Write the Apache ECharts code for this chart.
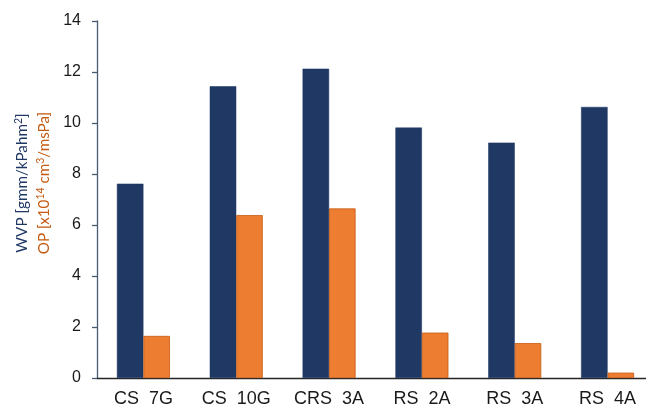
<!DOCTYPE html>
<html>
<head>
<meta charset="utf-8">
<script src="https://cdn.jsdelivr.net/npm/echarts@6/dist/echarts.min.js"></script>
<style>
  html, body { margin: 0; padding: 0; background: #fff; }
  #chart { width: 646px; height: 409px; }
</style>
</head>
<body>
<div id="chart"></div>
<script>
// Sample names along the x axis
const categories = ['CS  7G', 'CS  10G', 'CRS  3A', 'RS  2A', 'RS  3A', 'RS  4A'];
// Water vapour permeability, gmm/kPahm²
const wvpValues = [7.62, 11.44, 12.13, 9.82, 9.23, 10.63];
// Oxygen permeability, x10^14 cm³/msPa
const opValues = [1.65, 6.39, 6.65, 1.78, 1.37, 0.21];
// Value axis ticks
const yTicks = { min: 0, max: 14, interval: 2 };
// Two-line axis title, one colour per quantity ({s|..} marks superscripts)
const titleLines = ['WVP [gmm/kPahm{s|2}]', 'OP [x10{s|14} cm{s|3}/msPa]'];

const navy = '#203864';
const orange = '#ed7d31';
const titleFont = 'Lato, "Open Sans", sans-serif';

function titleStyle(text, color) {
  return {
    text: text,
    fill: color,
    fontFamily: titleFont,
    fontSize: 15.2,
    lineHeight: 20,
    align: 'center',
    verticalAlign: 'middle',
    rich: {
      s: { fontFamily: titleFont, fontSize: 10.5, fill: color, verticalAlign: 'top', lineHeight: 20, padding: [1, 0, 0, 0] }
    }
  };
}

const chart = echarts.init(document.getElementById('chart'), null, { renderer: 'canvas' });

chart.setOption({
  animation: false,
  backgroundColor: '#ffffff',
  grid: { left: 97, top: 21, width: 557, bottom: 31, containLabel: false, outerBoundsMode: 'none' },
  xAxis: {
    type: 'category',
    data: categories,
    axisLine: { show: true, lineStyle: { color: '#262626', width: 1.3 } },
    axisTick: { show: false },
    axisLabel: {
      color: '#1a1a1a',
      fontFamily: 'Liberation Sans, Arial, sans-serif',
      fontSize: 18,
      margin: 12
    },
    splitLine: { show: false }
  },
  yAxis: {
    type: 'value',
    min: yTicks.min,
    max: yTicks.max,
    interval: yTicks.interval,
    axisLine: { show: true, lineStyle: { color: '#4a5a75', width: 1.3 } },
    axisTick: { show: true, inside: false, length: 5, lineStyle: { color: '#4a5a75', width: 1.3 } },
    axisLabel: {
      color: '#1a1a1a',
      fontFamily: 'Liberation Sans, Arial, sans-serif',
      fontSize: 16,
      margin: 16
    },
    splitLine: { show: false }
  },
  graphic: [
    { type: 'text', x: 22, y: 183, rotation: Math.PI / 2, style: titleStyle(titleLines[0], navy) },
    { type: 'text', x: 44, y: 183, rotation: Math.PI / 2, style: titleStyle(titleLines[1], '#c55a11') }
  ],
  series: [
    {
      name: 'WVP',
      type: 'bar',
      data: wvpValues,
      barWidth: 26.5,
      barGap: '0%',
      itemStyle: { color: navy, borderColor: '#1d3560', borderWidth: 0.5 }
    },
    {
      name: 'OP',
      type: 'bar',
      data: opValues,
      barWidth: 26.5,
      barGap: '0%',
      itemStyle: { color: orange, borderColor: '#c55a11', borderWidth: 0.8 }
    }
  ]
});
</script>
</body>
</html>
